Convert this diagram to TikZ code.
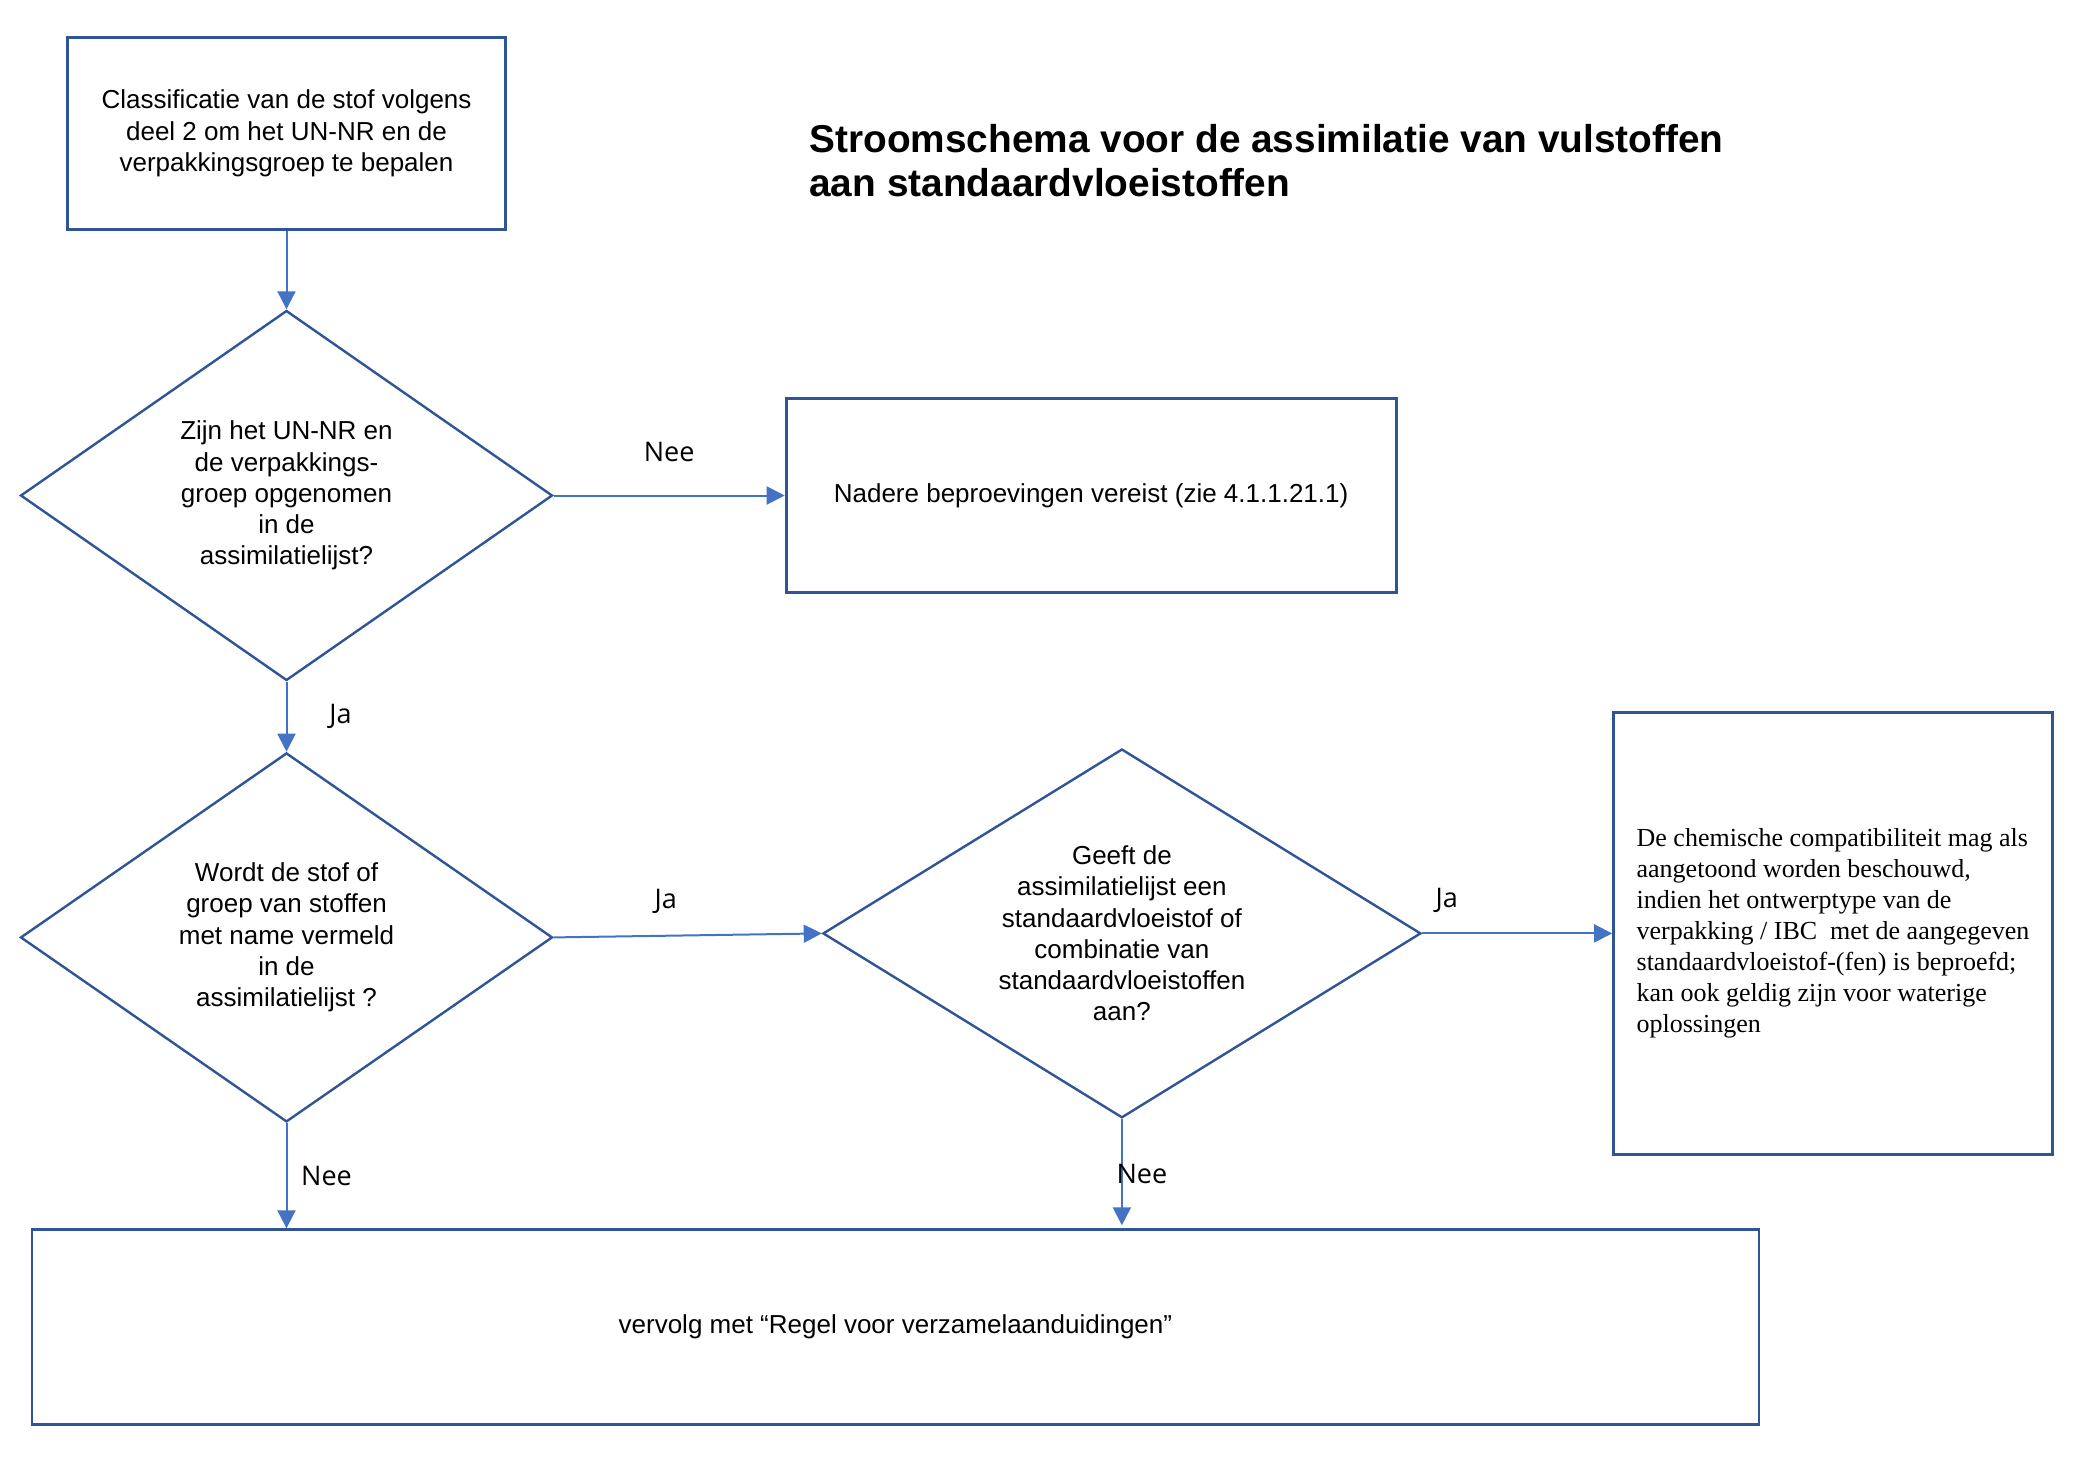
\documentclass[tikz,border=0pt]{standalone}
\usepackage{fontspec}
\setmainfont{Liberation Sans}
\newfontfamily\notefont{Liberation Serif}
\newfontfamily\labelfont{Open Sans}
\usepackage{xcolor}
\usetikzlibrary{positioning, arrows.meta, shapes.geometric}

\definecolor{boxblue}{HTML}{2F5597}
\definecolor{arrowblue}{HTML}{4472C4}

\begin{document}
\begin{tikzpicture}[
    x=0.5pt, y=-0.5pt,
    every node/.style={font=\fontsize{13}{15.6}\selectfont},
    block/.style={rectangle, draw=boxblue, line width=1.4pt, align=center, inner sep=0pt},
    choice/.style={diamond, draw=boxblue, line width=1.2pt, align=center, inner sep=0pt},
    lbl/.style={font=\labelfont\fontsize{13.5}{16}\selectfont, inner sep=0pt},
    arr/.style={-{Triangle[length=9pt, width=9pt]}, line width=1pt, draw=arrowblue},
]
    \useasboundingbox (0,0) rectangle (2080,1458);

    % title
    \node[anchor=north west, align=left, inner sep=0pt, font=\bfseries\fontsize{19.4}{21.9}\selectfont] (title) at (809,124)
        {Stroomschema voor de assimilatie van vulstoffen\\aan standaardvloeistoffen};

    % left column
    \node[block, minimum width=218.9pt, minimum height=96.2pt] (cls) at (286.5,133.3)
        {Classificatie van de stof volgens\\deel 2 om het UN-NR en de\\verpakkingsgroep te bepalen};
    \node[choice, shape aspect=1.44, minimum width=266pt, minimum height=185pt, below=39.2pt of cls] (q1)
        {Zijn het UN-NR en\\de verpakkings-\\groep opgenomen\\in de\\assimilatielijst?};
    \node[choice, shape aspect=1.44, minimum width=266pt, minimum height=184.5pt, below=35pt of q1] (q2)
        {Wordt de stof of\\groep van stoffen\\met name vermeld\\in de\\assimilatielijst ?};

    % right of the questions
    \node[block, minimum width=305pt, minimum height=96.8pt, right=115.5pt of q1] (test)
        {Nadere beproevingen vereist (zie 4.1.1.21.1)};
    \node[choice, shape aspect=1.62, minimum width=299pt, minimum height=184.4pt, right=134pt of q2, yshift=2pt] (q3)
        {Geeft de\\assimilatielijst een\\standaardvloeistof of\\combinatie van\\standaardvloeistoffen\\aan?};
    \node[block, minimum width=219.5pt, minimum height=220.9pt, align=left, right=95pt of q3, font=\notefont\fontsize{13}{15.45}\selectfont] (res)
        {De chemische compatibiliteit mag als\\aangetoond worden beschouwd,\\indien het ontwerptype van de\\verpakking / IBC\ \ met de aangegeven\\standaardvloeistof-(fen) is beproefd;\\kan ook geldig zijn voor waterige\\oplossingen};

    % bottom
    \node[block, minimum width=863.5pt, minimum height=97.5pt] (next) at (895.4,1327.2)
        {vervolg met “Regel voor verzamelaanduidingen”};

    \draw[arr] (cls) -- (q1);
    \draw[arr] (q1.east) -- (test.west) node[lbl, midway, yshift=22pt] {Nee};
    \draw[arr] (q1.south) -- (q2.north) node[lbl, midway, xshift=27pt] {Ja};
    \draw[arr] (q2.east) -- (q3.west) node[lbl, midway, xshift=-11pt, yshift=17pt] {Ja};
    \draw[arr] (q3.east) -- (q3.east -| res.west) node[lbl, pos=0.13, yshift=16.5pt] {Ja};
    \draw[arr] (q2.south) -- (q2.south |- next.north) node[lbl, midway, xshift=20pt] {Nee};
    \draw[arr, shorten >=1.5pt] (q3.south) -- (q3.south |- next.north) node[lbl, midway, xshift=10pt] {Nee};
\end{tikzpicture}
\end{document}
